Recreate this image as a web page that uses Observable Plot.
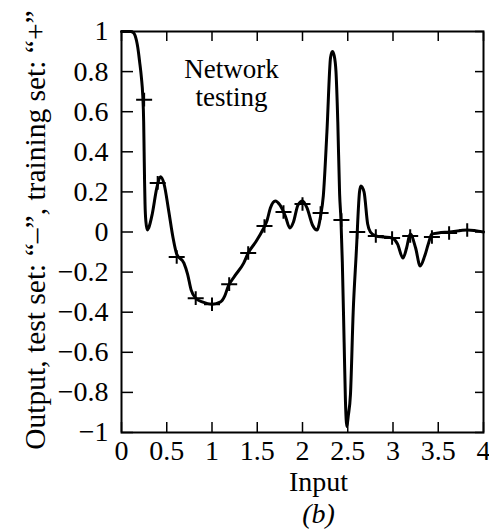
<!DOCTYPE html>
<html><head><meta charset="utf-8">
<script src="https://cdn.jsdelivr.net/npm/d3@7"></script>
<script src="https://cdn.jsdelivr.net/npm/@observablehq/plot@0.6"></script>
<style>
html,body{margin:0;padding:0;background:#fff;}
#chart svg, #chart svg text, #chart svg tspan { font-family: "Liberation Serif", "DejaVu Serif", serif !important; }
</style>
</head><body><div id="chart"></div>
<script>
const curveX = [0, 0.05, 0.10, 0.13, 0.15, 0.18, 0.20, 0.22, 0.235, 0.245, 0.25, 0.255, 0.26, 0.27, 0.285, 0.30, 0.34, 0.39, 0.43, 0.47, 0.52, 0.57, 0.61, 0.69, 0.73, 0.77, 0.82, 0.90, 1.00, 1.09, 1.14, 1.18, 1.25, 1.35, 1.40, 1.49, 1.56, 1.61, 1.645, 1.70, 1.75, 1.81, 1.86, 1.90, 1.95, 2.00, 2.05, 2.11, 2.16, 2.20, 2.23, 2.27, 2.31, 2.33, 2.35, 2.37, 2.39, 2.41, 2.425, 2.44, 2.46, 2.475, 2.49, 2.505, 2.53, 2.56, 2.60, 2.61, 2.63, 2.645, 2.68, 2.72, 2.75, 2.81, 2.90, 2.99, 3.05, 3.11, 3.15, 3.19, 3.25, 3.30, 3.35, 3.39, 3.43, 3.50, 3.62, 3.82, 4.00];
const curveY = [1.0, 1.0, 1.0, 0.995, 0.98, 0.92, 0.85, 0.77, 0.68, 0.55, 0.40, 0.25, 0.14, 0.05, 0.01, 0.02, 0.09, 0.22, 0.275, 0.24, 0.11, -0.03, -0.11, -0.155, -0.21, -0.29, -0.33, -0.35, -0.36, -0.35, -0.32, -0.27, -0.22, -0.155, -0.105, -0.045, 0.01, 0.06, 0.12, 0.155, 0.135, 0.08, 0.02, 0.05, 0.135, 0.155, 0.12, 0.035, 0.01, 0.08, 0.18, 0.5, 0.87, 0.90, 0.88, 0.80, 0.55, 0.19, 0.06, -0.15, -0.55, -0.85, -0.97, -0.92, -0.81, -0.4, -0.05, 0.05, 0.2, 0.23, 0.20, 0.04, 0.0, -0.02, -0.025, -0.03, -0.06, -0.13, -0.08, -0.01, -0.08, -0.17, -0.12, -0.06, -0.01, -0.005, 0.0, 0.01, 0.0];
const trainX = [0.25, 0.40, 0.61, 0.82, 1.00, 1.19, 1.40, 1.58, 1.79, 2.00, 2.20, 2.43, 2.605, 2.81, 2.99, 3.19, 3.43, 3.62, 3.82];
const trainY = [0.66, 0.245, -0.125, -0.33, -0.36, -0.26, -0.105, 0.03, 0.10, 0.14, 0.095, 0.06, 0.0, -0.02, -0.03, -0.02, -0.025, -0.005, 0.01];
const xTicks = [0, 0.5, 1, 1.5, 2, 2.5, 3, 3.5, 4];
const xTickLabels = ["0", "0.5", "1", "1.5", "2", "2.5", "3", "3.5", "4"];
const yTicks = [-1, -0.8, -0.6, -0.4, -0.2, 0, 0.2, 0.4, 0.6, 0.8, 1];
const yTickLabels = ["\u22121", "\u22120.8", "\u22120.6", "\u22120.4", "\u22120.2", "0", "0.2", "0.4", "0.6", "0.8", "1"];
const yLabel = "Output, test set: \u201C\u2013\u201D, training set: \u201C+\u201D";
const xLabel = "Input";
const panelLabel = "(b)";
const annotation = "Network\ntesting";

const curve = curveX.map((x, i) => ({x, y: curveY[i]}));
const train = trainX.map((x, i) => ({x, y: trainY[i]}));

const serif = "Liberation Serif";

const plusSymbol = {
  draw(ctx, size) {
    const r = Math.sqrt(size / Math.PI);
    const v = r * 0.85;
    ctx.moveTo(-r, 0); ctx.lineTo(r, 0);
    ctx.moveTo(0, -v); ctx.lineTo(0, v);
  }
};

const chart = Plot.plot({
  width: 489, height: 529,
  marginLeft: 121, marginRight: 6, marginTop: 31, marginBottom: 97,
  style: {fontFamily: serif, fontSize: "28px", color: "#000", background: "#fff", overflow: "visible"},
  x: {domain: [0, 4], axis: null, label: null},
  y: {domain: [-1, 1], axis: null, label: null},
  marks: [
    Plot.frame({stroke: "#000", strokeWidth: 2}),
    Plot.axisX(xTicks, {anchor: "bottom", tickSize: -10, tickPadding: 18, strokeWidth: 1.5, label: null, fontFamily: serif, fontSize: 28,
      tickFormat: d => xTickLabels[xTicks.indexOf(d)]}),
    Plot.axisX(xTicks, {anchor: "top", tickSize: -9, strokeWidth: 1.5, label: null, tickFormat: () => ""}),
    Plot.axisY(yTicks, {anchor: "left", tickSize: -12, tickPadding: 25, strokeWidth: 1.5, label: null, fontFamily: serif, fontSize: 28,
      tickFormat: d => yTickLabels[yTicks.indexOf(d)]}),
    Plot.axisY(yTicks, {anchor: "right", tickSize: -9, strokeWidth: 1.5, label: null, tickFormat: () => ""}),
    Plot.line(curve, {x: "x", y: "y", curve: "monotone-x", stroke: "#000", strokeWidth: 3}),
    Plot.dot(train, {x: "x", y: "y", symbol: plusSymbol, r: 8, stroke: "#000", fill: "none", strokeWidth: 2}),
    Plot.text([annotation], {frameAnchor: "top-left", dx: 110, dy: 26, lineAnchor: "top", textAnchor: "middle", fontFamily: serif, fontSize: 27, lineHeight: 1.05, fill: "#000"}),
    Plot.text([yLabel], {frameAnchor: "left", dx: -86, dy: -2, rotate: -90, textAnchor: "middle", fontFamily: serif, fontSize: 29.5, fill: "#000"}),
    Plot.text([xLabel], {frameAnchor: "bottom", dx: 16, dy: 39, lineAnchor: "top", textAnchor: "middle", fontFamily: serif, fontSize: 28, fill: "#000"}),
    Plot.text([panelLabel], {frameAnchor: "bottom", dx: 16, dy: 71, lineAnchor: "top", textAnchor: "middle", fontFamily: serif, fontSize: 28, fontStyle: "italic", fill: "#000"})
  ]
});
document.getElementById("chart").appendChild(chart);
</script>
</body></html>
